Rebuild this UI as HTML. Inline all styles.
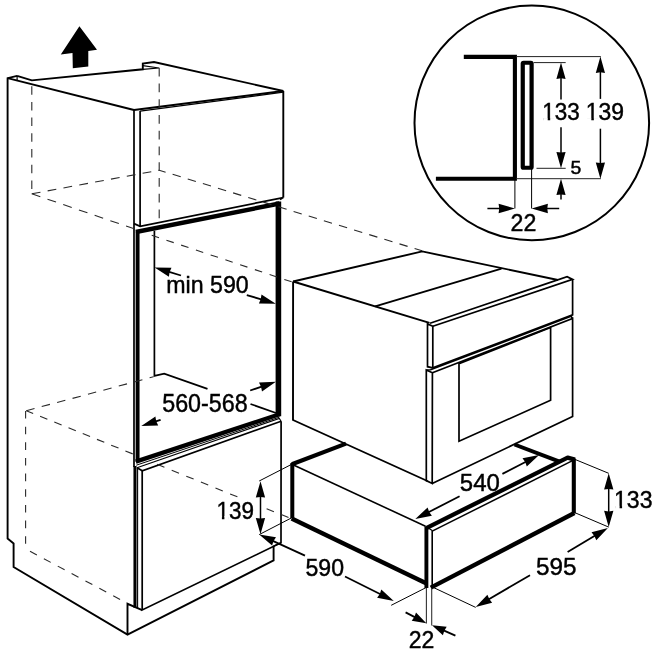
<!DOCTYPE html>
<html><head><meta charset="utf-8"><title>Installation diagram</title>
<style>
html,body{margin:0;padding:0;background:#fff;}
body{width:657px;height:654px;overflow:hidden;}
svg{display:block;filter:grayscale(1);}
text{font-family:"Liberation Sans",sans-serif;fill:#000;}
</style></head><body>
<svg width="657" height="654" viewBox="0 0 657 654">
<rect width="657" height="654" fill="#fff"/>
<path d="M17.1,75.8 L7.6,78.2 L7.6,538.6 L13.6,543.5 L13.6,567.0 L127.5,634.6 L273.6,560.4 L273.6,545.8" fill="none" stroke="#000" stroke-width="1.9" stroke-linecap="butt" stroke-linejoin="miter"/>
<path d="M127.5,634.6 L127.5,603.8 L142.2,610.2" fill="none" stroke="#000" stroke-width="1.9" stroke-linecap="butt" stroke-linejoin="miter"/>
<path d="M17.1,75.8 L31.8,80.4 L142.8,69.3 L142.8,63.6 L154.0,62.0 L283.3,91.0" fill="none" stroke="#000" stroke-width="1.9" stroke-linecap="butt" stroke-linejoin="miter"/>
<path d="M7.6,78.2 L134.0,110.0" fill="none" stroke="#000" stroke-width="1.9" stroke-linecap="butt" stroke-linejoin="miter"/>
<path d="M17.1,75.8 L17.1,80.4" fill="none" stroke="#000" stroke-width="1.2" stroke-linecap="butt" stroke-linejoin="miter"/>
<path d="M142.8,65.6 L159.0,68.0 L142.8,69.3" fill="none" stroke="#000" stroke-width="1.2" stroke-linecap="butt" stroke-linejoin="miter"/>
<path d="M134.0,110.0 L283.3,91.0" fill="none" stroke="#000" stroke-width="1.9" stroke-linecap="butt" stroke-linejoin="miter"/>
<path d="M140.1,111.2 L283.3,92.2" fill="none" stroke="#000" stroke-width="1.2" stroke-linecap="butt" stroke-linejoin="miter"/>
<path d="M134.0,110.0 L134.0,467.0" fill="none" stroke="#000" stroke-width="1.7" stroke-linecap="butt" stroke-linejoin="miter"/>
<path d="M135.0,466.0 L135.0,607.8" fill="none" stroke="#000" stroke-width="3.1" stroke-linecap="butt" stroke-linejoin="miter"/>
<path d="M137.6,468.0 L137.6,608.6" fill="none" stroke="#000" stroke-width="1.1" stroke-linecap="butt" stroke-linejoin="miter"/>
<path d="M140.1,111.0 L140.1,226.3" fill="none" stroke="#000" stroke-width="1.7" stroke-linecap="butt" stroke-linejoin="miter"/>
<path d="M283.3,91.0 L283.3,197.6" fill="none" stroke="#000" stroke-width="1.9" stroke-linecap="butt" stroke-linejoin="miter"/>
<path d="M134.0,223.6 L140.1,226.3 L283.3,197.6 L280.0,199.5" fill="none" stroke="#000" stroke-width="1.7" stroke-linecap="butt" stroke-linejoin="miter"/>
<path d="M137.6,462.0 L137.6,231.5" fill="none" stroke="#000" stroke-width="3.9" stroke-linecap="butt" stroke-linejoin="miter"/>
<path d="M135.8,232.0 L279.5,203.5" fill="none" stroke="#000" stroke-width="4.4" stroke-linecap="butt" stroke-linejoin="miter"/>
<path d="M278.4,201.5 L278.4,416.2" fill="none" stroke="#000" stroke-width="5.6" stroke-linecap="butt" stroke-linejoin="miter"/>
<path d="M135.8,461.6 L279.5,414.3" fill="none" stroke="#000" stroke-width="4.3" stroke-linecap="butt" stroke-linejoin="miter"/>
<path d="M154.4,230.8 L154.4,375.9 L164.2,373.7 L207.5,388.9" fill="none" stroke="#000" stroke-width="1.7" stroke-linecap="butt" stroke-linejoin="miter"/>
<path d="M250.5,404.0 L276.0,413.0" fill="none" stroke="#000" stroke-width="1.7" stroke-linecap="butt" stroke-linejoin="miter"/>
<path d="M136.3,465.2 L279.3,417.2" fill="none" stroke="#000" stroke-width="1.0" stroke-linecap="butt" stroke-linejoin="miter"/>
<path d="M137.0,467.8 L279.3,418.4 L281.1,421.2" fill="none" stroke="#000" stroke-width="1.2" stroke-linecap="butt" stroke-linejoin="miter"/>
<path d="M137.0,467.8 L142.3,470.8 L281.1,421.2" fill="none" stroke="#000" stroke-width="1.6" stroke-linecap="butt" stroke-linejoin="miter"/>
<path d="M142.2,470.8 L142.2,610.0 L281.0,542.8 L281.1,421.2" fill="none" stroke="#000" stroke-width="1.7" stroke-linecap="butt" stroke-linejoin="miter"/>
<path d="M281.0,542.8 L273.6,546.2" fill="none" stroke="#000" stroke-width="1.4" stroke-linecap="butt" stroke-linejoin="miter"/>
<path d="M31.8,81.5 L31.8,193.8" fill="none" stroke="#2a2a2a" stroke-width="1.1" stroke-dasharray="8.5 7.2" stroke-dashoffset="11.0"/>
<path d="M31.8,193.8 L159.2,170.2" fill="none" stroke="#2a2a2a" stroke-width="1.1" stroke-dasharray="8.8 7.3" stroke-dashoffset="0"/>
<path d="M159.2,67.7 L159.2,222.0" fill="none" stroke="#2a2a2a" stroke-width="1.1" stroke-dasharray="8.8 6.95" stroke-dashoffset="0"/>
<path d="M31.8,193.8 L133.5,228.6" fill="none" stroke="#2a2a2a" stroke-width="1.1" stroke-dasharray="9.0 7.6" stroke-dashoffset="0"/>
<path d="M151.7,235.3 L293.0,282.3" fill="none" stroke="#2a2a2a" stroke-width="1.1" stroke-dasharray="7.7 7.83" stroke-dashoffset="0"/>
<path d="M159.2,170.2 L422.0,250.8" fill="none" stroke="#2a2a2a" stroke-width="1.1" stroke-dasharray="8.5 7.32" stroke-dashoffset="1.8"/>
<path d="M25.6,411.0 L25.6,545.6" fill="none" stroke="#2a2a2a" stroke-width="1.1" stroke-dasharray="7.6 8.05" stroke-dashoffset="0"/>
<path d="M25.5,548.9 L122.5,600.7" fill="none" stroke="#2a2a2a" stroke-width="1.1" stroke-dasharray="7.8 7.92" stroke-dashoffset="10.62"/>
<path d="M26.3,410.7 L153.5,376.8" fill="none" stroke="#2a2a2a" stroke-width="1.1" stroke-dasharray="8.5 7.45" stroke-dashoffset="0"/>
<path d="M26.3,410.7 L133.5,454.2" fill="none" stroke="#2a2a2a" stroke-width="1.1" stroke-dasharray="7.9 7.45" stroke-dashoffset="0.5"/>
<path d="M157.1,464.3 L237.5,496.9" fill="none" stroke="#2a2a2a" stroke-width="1.1" stroke-dasharray="7.9 7.85" stroke-dashoffset="0"/>
<path d="M266.6,508.7 L291.9,518.9" fill="none" stroke="#2a2a2a" stroke-width="1.1" stroke-dasharray="7.9 7.85" stroke-dashoffset="0"/>
<path d="M79.4,26.2 L97,49.7 L88.3,51 L88.3,66.4 L72.8,68.2 L72.5,53.1 L60.8,54.6 Z" fill="#000"/>
<path d="M293.1,281.5 L293.0,420.0 L427.4,481.0" fill="none" stroke="#000" stroke-width="1.9" stroke-linecap="butt" stroke-linejoin="miter"/>
<path d="M293.1,281.5 L422.2,251.4 L558.0,280.0" fill="none" stroke="#000" stroke-width="1.9" stroke-linecap="butt" stroke-linejoin="miter"/>
<path d="M293.1,281.5 L429.5,322.8" fill="none" stroke="#000" stroke-width="1.9" stroke-linecap="butt" stroke-linejoin="miter"/>
<path d="M375.2,306.3 L501.5,268.6" fill="none" stroke="#000" stroke-width="1.9" stroke-linecap="butt" stroke-linejoin="miter"/>
<path d="M427.5,323.9 L427.5,366.7 L432.8,367.9 L432.8,326.3 L427.5,323.9 Z" fill="none" stroke="#000" stroke-width="1.7" stroke-linecap="butt" stroke-linejoin="miter"/>
<path d="M430.0,323.2 L567.1,276.7 L572.6,279.4 L432.8,326.3" fill="none" stroke="#000" stroke-width="1.7" stroke-linecap="butt" stroke-linejoin="miter"/>
<path d="M572.6,279.4 L572.6,314.8 L432.8,367.9" fill="none" stroke="#000" stroke-width="1.7" stroke-linecap="butt" stroke-linejoin="miter"/>
<path d="M426.3,370.0 L426.3,480.6 L432.2,483.4 L432.4,372.8 L426.3,370.0 Z" fill="none" stroke="#000" stroke-width="1.7" stroke-linecap="butt" stroke-linejoin="miter"/>
<path d="M426.3,370.0 L430.6,369.8 L571.0,316.3 L572.6,318.4" fill="none" stroke="#000" stroke-width="1.6" stroke-linecap="butt" stroke-linejoin="miter"/>
<path d="M432.4,372.8 L572.6,318.4 L572.6,416.5 L432.2,483.4" fill="none" stroke="#000" stroke-width="1.7" stroke-linecap="butt" stroke-linejoin="miter"/>
<path d="M459.0,363.6 L550.6,327.5 L550.6,400.3 L459.0,441.2 Z" fill="none" stroke="#000" stroke-width="1.7" stroke-linecap="butt" stroke-linejoin="miter"/>
<path d="M291.9,464.2 L346.0,443.6" fill="none" stroke="#000" stroke-width="4.2" stroke-linecap="butt" stroke-linejoin="miter"/>
<path d="M292.3,463.0 L292.3,518.0" fill="none" stroke="#000" stroke-width="4.0" stroke-linecap="butt" stroke-linejoin="miter"/>
<path d="M291.6,518.6 L426.6,583.6" fill="none" stroke="#000" stroke-width="4.4" stroke-linecap="butt" stroke-linejoin="miter"/>
<path d="M291.9,464.2 L425.5,526.3" fill="none" stroke="#000" stroke-width="1.6" stroke-linecap="butt" stroke-linejoin="miter"/>
<path d="M426.4,526.5 L426.4,588.0" fill="none" stroke="#000" stroke-width="3.9" stroke-linecap="butt" stroke-linejoin="miter"/>
<path d="M432.2,530.6 L432.2,586.6" fill="none" stroke="#000" stroke-width="1.6" stroke-linecap="butt" stroke-linejoin="miter"/>
<path d="M425.5,526.3 L432.2,530.6" fill="none" stroke="#000" stroke-width="1.2" stroke-linecap="butt" stroke-linejoin="miter"/>
<path d="M426.8,527.8 L567.6,457.6 L575.0,459.6" fill="none" stroke="#000" stroke-width="4.3" stroke-linecap="butt" stroke-linejoin="round"/>
<path d="M432.2,531.2 L572.0,460.9" fill="none" stroke="#000" stroke-width="1.5" stroke-linecap="butt" stroke-linejoin="miter"/>
<path d="M573.8,458.5 L573.8,513.4" fill="none" stroke="#000" stroke-width="4.1" stroke-linecap="butt" stroke-linejoin="miter"/>
<path d="M430.8,587.6 L574.4,513.0" fill="none" stroke="#000" stroke-width="4.3" stroke-linecap="butt" stroke-linejoin="miter"/>
<path d="M514.5,444.5 L559.5,461.7" fill="none" stroke="#000" stroke-width="4.0" stroke-linecap="butt" stroke-linejoin="miter"/>
<path d="M154.6,267.6 L171.5,267.8 L169.6,272.1 L168.9,276.7 Z" fill="#000"/>
<path d="M181.0,275.5 L168.3,271.7" fill="none" stroke="#000" stroke-width="1.8" stroke-linecap="butt" stroke-linejoin="miter"/>
<path d="M275.8,303.7 L258.9,303.5 L260.7,299.2 L261.5,294.6 Z" fill="#000"/>
<path d="M246.8,295.1 L262.1,299.6" fill="none" stroke="#000" stroke-width="1.8" stroke-linecap="butt" stroke-linejoin="miter"/>
<text x="166.2" y="293.4" font-size="24.5" text-anchor="start" textLength="82.5" lengthAdjust="spacingAndGlyphs" stroke="#000" stroke-width="0.45">min 590</text>
<path d="M275.9,381.8 L262.0,391.4 L261.0,386.8 L259.0,382.6 Z" fill="#000"/>
<path d="M250.2,390.5 L262.4,386.4" fill="none" stroke="#000" stroke-width="1.8" stroke-linecap="butt" stroke-linejoin="miter"/>
<path d="M141.3,426.1 L155.4,416.6 L156.2,421.2 L158.2,425.5 Z" fill="#000"/>
<path d="M160.6,419.8 L154.9,421.7" fill="none" stroke="#000" stroke-width="1.8" stroke-linecap="butt" stroke-linejoin="miter"/>
<text x="162.2" y="412.3" font-size="25" text-anchor="start" textLength="85.5" lengthAdjust="spacingAndGlyphs" stroke="#000" stroke-width="0.45">560-568</text>
<path d="M291.9,464.2 L259.2,481.0" fill="none" stroke="#000" stroke-width="1.0" stroke-linecap="butt" stroke-linejoin="miter"/>
<path d="M291.9,517.7 L259.2,534.6" fill="none" stroke="#000" stroke-width="1.0" stroke-linecap="butt" stroke-linejoin="miter"/>
<path d="M260.5,481.2 L265.1,497.5 L260.5,496.9 L255.8,497.5 Z" fill="#000"/>
<path d="M260.5,508.0 L260.5,495.5" fill="none" stroke="#000" stroke-width="1.5" stroke-linecap="butt" stroke-linejoin="miter"/>
<path d="M260.5,534.2 L255.8,517.9 L260.5,518.5 L265.1,517.9 Z" fill="#000"/>
<path d="M260.5,508.0 L260.5,519.9" fill="none" stroke="#000" stroke-width="1.5" stroke-linecap="butt" stroke-linejoin="miter"/>
<text x="216.5" y="518.6" font-size="24.3" text-anchor="start" textLength="37.5" lengthAdjust="spacingAndGlyphs" stroke="#000" stroke-width="0.45">139</text>
<rect x="217.61" y="516.18" width="4.29" height="4.12" fill="#fff"/>
<rect x="224.39" y="516.18" width="4.11" height="4.12" fill="#fff"/>
<path d="M259.2,534.6 L276.0,537.2 L273.5,541.1 L272.1,545.6 Z" fill="#000"/>
<path d="M305.0,555.6 L272.2,540.6" fill="none" stroke="#000" stroke-width="1.8" stroke-linecap="butt" stroke-linejoin="miter"/>
<path d="M393.8,600.9 L377.1,597.8 L379.8,593.9 L381.3,589.5 Z" fill="#000"/>
<path d="M345.0,576.5 L381.0,594.5" fill="none" stroke="#000" stroke-width="1.8" stroke-linecap="butt" stroke-linejoin="miter"/>
<text x="305.5" y="575.6" font-size="24.5" text-anchor="start" textLength="38.5" lengthAdjust="spacingAndGlyphs" stroke="#000" stroke-width="0.45">590</text>
<path d="M428.0,586.6 L391.2,605.3" fill="none" stroke="#000" stroke-width="1.0" stroke-linecap="butt" stroke-linejoin="miter"/>
<path d="M426.4,588.0 L426.4,623.4" fill="none" stroke="#333" stroke-width="1.1" stroke-linecap="butt" stroke-linejoin="miter"/>
<path d="M431.7,588.0 L431.7,625.4" fill="none" stroke="#333" stroke-width="1.1" stroke-linecap="butt" stroke-linejoin="miter"/>
<path d="M426.3,623.2 L411.7,620.8 L414.4,617.0 L416.0,612.6 Z" fill="#000"/>
<path d="M405.6,612.4 L415.7,617.6" fill="none" stroke="#000" stroke-width="1.8" stroke-linecap="butt" stroke-linejoin="miter"/>
<path d="M432.0,625.3 L446.7,626.7 L444.3,630.7 L442.9,635.2 Z" fill="#000"/>
<path d="M455.4,635.6 L443.0,630.1" fill="none" stroke="#000" stroke-width="1.8" stroke-linecap="butt" stroke-linejoin="miter"/>
<text x="408.8" y="647.7" font-size="23.7" text-anchor="start" textLength="25.6" lengthAdjust="spacingAndGlyphs" stroke="#000" stroke-width="0.45">22</text>
<path d="M431.5,586.6 L475.7,607.4" fill="none" stroke="#000" stroke-width="1.0" stroke-linecap="butt" stroke-linejoin="miter"/>
<path d="M574.0,512.3 L608.7,527.1" fill="none" stroke="#000" stroke-width="1.0" stroke-linecap="butt" stroke-linejoin="miter"/>
<path d="M475.7,606.9 L487.4,594.7 L489.3,599.0 L492.1,602.7 Z" fill="#000"/>
<path d="M530.0,575.2 L488.0,599.7" fill="none" stroke="#000" stroke-width="1.8" stroke-linecap="butt" stroke-linejoin="miter"/>
<path d="M607.9,527.9 L596.3,540.3 L594.4,536.0 L591.5,532.3 Z" fill="#000"/>
<path d="M567.6,552.0 L595.6,535.2" fill="none" stroke="#000" stroke-width="1.8" stroke-linecap="butt" stroke-linejoin="miter"/>
<text x="536" y="575.4" font-size="24.5" text-anchor="start" textLength="40.5" lengthAdjust="spacingAndGlyphs" stroke="#000" stroke-width="0.45">595</text>
<path d="M574.0,459.0 L608.7,473.3" fill="none" stroke="#000" stroke-width="1.0" stroke-linecap="butt" stroke-linejoin="miter"/>
<path d="M608.7,473.3 L613.4,489.6 L608.7,489.0 L604.1,489.6 Z" fill="#000"/>
<path d="M608.7,500.0 L608.7,487.6" fill="none" stroke="#000" stroke-width="1.5" stroke-linecap="butt" stroke-linejoin="miter"/>
<path d="M608.7,527.1 L604.1,510.8 L608.7,511.4 L613.4,510.8 Z" fill="#000"/>
<path d="M608.7,500.0 L608.7,512.8" fill="none" stroke="#000" stroke-width="1.5" stroke-linecap="butt" stroke-linejoin="miter"/>
<text x="614" y="508.3" font-size="24.3" text-anchor="start" textLength="38.5" lengthAdjust="spacingAndGlyphs" stroke="#000" stroke-width="0.45">133</text>
<rect x="615.16" y="505.88" width="4.39" height="4.12" fill="#fff"/>
<rect x="622.09" y="505.88" width="4.21" height="4.12" fill="#fff"/>
<path d="M415.3,519.1 L427.6,507.5 L429.2,511.9 L431.9,515.7 Z" fill="#000"/>
<path d="M459.6,496.2 L428.0,512.5" fill="none" stroke="#000" stroke-width="1.8" stroke-linecap="butt" stroke-linejoin="miter"/>
<path d="M539.1,454.9 L526.8,466.5 L525.2,462.1 L522.5,458.3 Z" fill="#000"/>
<path d="M502.4,473.9 L526.4,461.5" fill="none" stroke="#000" stroke-width="1.8" stroke-linecap="butt" stroke-linejoin="miter"/>
<text x="459.8" y="491.1" font-size="24.5" text-anchor="start" textLength="40" lengthAdjust="spacingAndGlyphs" stroke="#000" stroke-width="0.45">540</text>
<circle cx="531.8" cy="122.9" r="117.3" fill="none" stroke="#000" stroke-width="2.0"/>
<path d="M463.8,56.9 L514.9,56.9 L514.9,178.7 L435.9,178.7" fill="none" stroke="#000" stroke-width="4.1" stroke-linecap="butt" stroke-linejoin="miter"/>
<rect x="522.75" y="62.75" width="8.85" height="105" rx="0.8" ry="0.8" fill="none" stroke="#000" stroke-width="4.2" stroke-linejoin="round"/>
<path d="M516.0,56.6 L600.8,56.6" fill="none" stroke="#222" stroke-width="1.0" stroke-linecap="butt" stroke-linejoin="miter"/>
<path d="M516.0,178.7 L600.8,178.7" fill="none" stroke="#222" stroke-width="1.0" stroke-linecap="butt" stroke-linejoin="miter"/>
<path d="M533.7,62.6 L565.7,62.6" fill="none" stroke="#222" stroke-width="1.0" stroke-linecap="butt" stroke-linejoin="miter"/>
<path d="M536.5,168.3 L565.7,168.3" fill="none" stroke="#222" stroke-width="1.0" stroke-linecap="butt" stroke-linejoin="miter"/>
<path d="M561.0,62.6 L565.6,78.9 L561.0,78.3 L556.4,78.9 Z" fill="#000"/>
<path d="M561.0,99.6 L561.0,76.9" fill="none" stroke="#000" stroke-width="1.5" stroke-linecap="butt" stroke-linejoin="miter"/>
<path d="M561.0,168.3 L556.4,152.0 L561.0,152.6 L565.6,152.0 Z" fill="#000"/>
<path d="M561.0,127.2 L561.0,154.0" fill="none" stroke="#000" stroke-width="1.5" stroke-linecap="butt" stroke-linejoin="miter"/>
<path d="M600.4,56.6 L605.0,72.9 L600.4,72.3 L595.8,72.9 Z" fill="#000"/>
<path d="M600.4,98.9 L600.4,70.9" fill="none" stroke="#000" stroke-width="1.5" stroke-linecap="butt" stroke-linejoin="miter"/>
<path d="M600.4,178.7 L595.8,162.4 L600.4,163.0 L605.0,162.4 Z" fill="#000"/>
<path d="M600.4,128.7 L600.4,164.4" fill="none" stroke="#000" stroke-width="1.5" stroke-linecap="butt" stroke-linejoin="miter"/>
<path d="M561.0,178.7 L565.6,195.0 L561.0,194.4 L556.4,195.0 Z" fill="#000"/>
<path d="M561.0,199.4 L561.0,193.0" fill="none" stroke="#000" stroke-width="1.5" stroke-linecap="butt" stroke-linejoin="miter"/>
<path d="M514.9,179.0 L514.9,208.5" fill="none" stroke="#000" stroke-width="1.0" stroke-linecap="butt" stroke-linejoin="miter"/>
<path d="M531.6,169.0 L531.6,208.5" fill="none" stroke="#000" stroke-width="1.0" stroke-linecap="butt" stroke-linejoin="miter"/>
<path d="M514.9,208.5 L498.6,213.2 L499.2,208.5 L498.6,203.8 Z" fill="#000"/>
<path d="M487.4,208.5 L500.6,208.5" fill="none" stroke="#000" stroke-width="1.5" stroke-linecap="butt" stroke-linejoin="miter"/>
<path d="M531.6,208.5 L547.9,203.8 L547.3,208.5 L547.9,213.2 Z" fill="#000"/>
<path d="M559.2,208.5 L545.9,208.5" fill="none" stroke="#000" stroke-width="1.5" stroke-linecap="butt" stroke-linejoin="miter"/>
<text x="542.3" y="120.4" font-size="23.5" text-anchor="start" textLength="37.5" lengthAdjust="spacingAndGlyphs" stroke="#000" stroke-width="0.45">133</text>
<rect x="543.41" y="118.04" width="4.29" height="4.06" fill="#fff"/>
<rect x="550.19" y="118.04" width="4.11" height="4.06" fill="#fff"/>
<text x="585.8" y="120.4" font-size="23.5" text-anchor="start" textLength="38.3" lengthAdjust="spacingAndGlyphs" stroke="#000" stroke-width="0.45">139</text>
<rect x="586.95" y="118.04" width="4.37" height="4.06" fill="#fff"/>
<rect x="593.85" y="118.04" width="4.19" height="4.06" fill="#fff"/>
<text x="570.6" y="173.9" font-size="18" text-anchor="start" textLength="10.8" lengthAdjust="spacingAndGlyphs" stroke="#000" stroke-width="0.45">5</text>
<text x="510.5" y="231.3" font-size="24.6" text-anchor="start" textLength="25.8" lengthAdjust="spacingAndGlyphs" stroke="#000" stroke-width="0.45">22</text>
</svg>
</body></html>
